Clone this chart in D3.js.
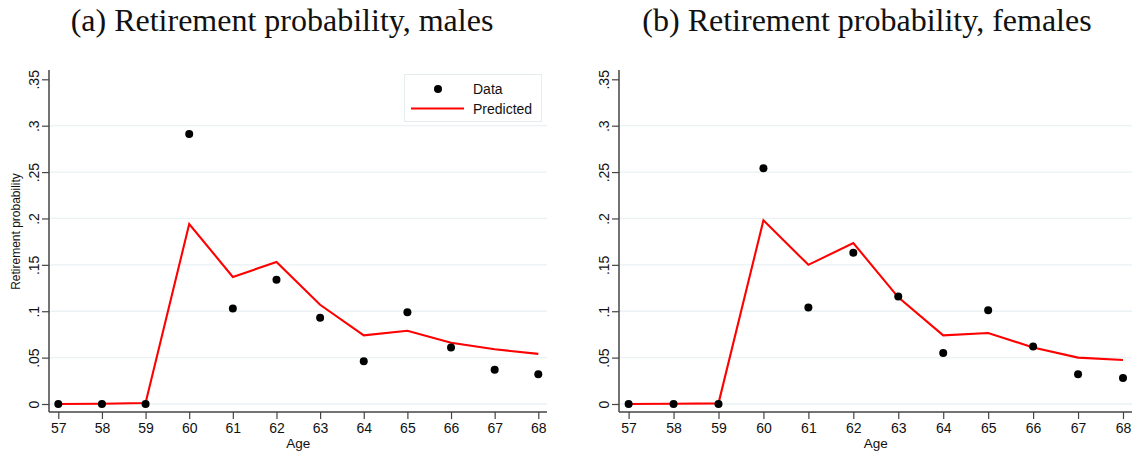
<!DOCTYPE html>
<html>
<head>
<meta charset="utf-8">
<script src="https://cdn.jsdelivr.net/npm/d3@7"></script>
<style>
  html, body { margin: 0; padding: 0; background: #fff; }
  svg { display: block; }
</style>
</head>
<body>
<svg id="chart" width="1136" height="455"></svg>
<script>
// ---- data ----
const ages = [57, 58, 59, 60, 61, 62, 63, 64, 65, 66, 67, 68];
const malesData = [0, 0, 0, 0.291, 0.103, 0.134, 0.093, 0.046, 0.099, 0.061, 0.037, 0.032];
const malesPredicted = [0, 0.0003, 0.001, 0.194, 0.137, 0.153, 0.107, 0.074, 0.079, 0.066, 0.059, 0.054];
const femalesData = [0, 0, 0, 0.254, 0.104, 0.163, 0.116, 0.055, 0.101, 0.062, 0.032, 0.028];
const femalesPredicted = [0, 0.0003, 0.0007, 0.198, 0.150, 0.1735, 0.115, 0.074, 0.0765, 0.061, 0.050, 0.0475];
const yTickValues = [0, 0.05, 0.1, 0.15, 0.2, 0.25, 0.3, 0.35];
const yTickLabels = ["0", ".05", ".1", ".15", ".2", ".25", ".3", ".35"];
const gridValues = [0, 0.05, 0.1, 0.15, 0.2, 0.25, 0.3];
const titles = ["(a) Retirement probability, males", "(b) Retirement probability, females"];
const legendLabels = ["Data", "Predicted"];
const yTitle = "Retirement probability";
const xTitle = "Age";

// ---- layout ----
const svg = d3.select("#chart");
const panels = [
  { title: titles[0], data: malesData, pred: malesPredicted, axisX: 49, right: 547, x0: 58.3, x1: 538.3, titleX: 282, showYTitle: true, legend: true },
  { title: titles[1], data: femalesData, pred: femalesPredicted, axisX: 619, right: 1132, x0: 628.6, x1: 1123, titleX: 867, showYTitle: false, legend: false }
];
const plotTop = 70, plotBottom = 412;
const y = d3.scaleLinear().domain([0, 0.35]).range([404, 79.3]);
const gridColor = "#eaf2f3";
const axisColor = "#444";
const sansFont = "Liberation Sans, Arial, sans-serif";

panels.forEach(p => {
  const x = d3.scaleLinear().domain([57, 68]).range([p.x0, p.x1]);
  const g = svg.append("g");

  // gridlines
  g.selectAll("line.grid").data(gridValues).enter().append("line")
    .attr("x1", p.axisX).attr("x2", p.right)
    .attr("y1", d => y(d)).attr("y2", d => y(d))
    .attr("stroke", gridColor).attr("stroke-width", 1.3);

  // y axis
  const yAxis = d3.axisLeft(y).tickValues(yTickValues)
    .tickFormat((d, i) => yTickLabels[i]).tickSize(7).tickSizeOuter(0);
  const ya = g.append("g").attr("transform", `translate(${p.axisX},0)`).call(yAxis);
  ya.select(".domain").remove();
  ya.selectAll(".tick line").attr("stroke", axisColor).attr("stroke-width", 1.2);
  ya.selectAll(".tick text")
    .attr("transform", "rotate(-90)")
    .attr("x", 0).attr("y", -10).attr("dy", 0)
    .attr("text-anchor", "middle")
    .attr("fill", "#111")
    .style("font-family", sansFont).style("font-size", "14px");
  g.append("line").attr("x1", p.axisX).attr("x2", p.axisX)
    .attr("y1", plotTop).attr("y2", plotBottom)
    .attr("stroke", axisColor).attr("stroke-width", 1.5);

  // x axis
  const xAxis = d3.axisBottom(x).tickValues(ages).tickFormat(d3.format("d"))
    .tickSize(7).tickSizeOuter(0);
  const xa = g.append("g").attr("transform", `translate(0,${plotBottom})`).call(xAxis);
  xa.select(".domain").remove();
  xa.selectAll(".tick line").attr("stroke", axisColor).attr("stroke-width", 1.2);
  xa.selectAll(".tick text")
    .attr("y", 20.5).attr("dy", 0)
    .attr("fill", "#111")
    .style("font-family", sansFont).style("font-size", "14px");
  g.append("line").attr("x1", p.axisX).attr("x2", p.right)
    .attr("y1", plotBottom).attr("y2", plotBottom)
    .attr("stroke", axisColor).attr("stroke-width", 1.5);

  // x title
  g.append("text").text(xTitle)
    .attr("x", (p.x0 + p.x1) / 2).attr("y", 448)
    .attr("text-anchor", "middle").attr("fill", "#111")
    .style("font-family", sansFont).style("font-size", "13.5px");

  // y title
  if (p.showYTitle) {
    g.append("text").text(yTitle)
      .attr("transform", `translate(20,231.5) rotate(-90)`)
      .attr("text-anchor", "middle").attr("fill", "#111")
      .style("font-family", sansFont).style("font-size", "12px");
  }

  // predicted line
  const line = d3.line().x((d, i) => x(ages[i])).y(d => y(d));
  g.append("path").datum(p.pred)
    .attr("d", line).attr("fill", "none")
    .attr("stroke", "#ff0000").attr("stroke-width", 2.1)
    .attr("stroke-linejoin", "miter");

  // data dots
  g.selectAll("circle.dot").data(p.data).enter().append("circle")
    .attr("cx", (d, i) => x(ages[i])).attr("cy", d => y(d))
    .attr("r", 4).attr("fill", "#000");

  // panel title
  g.append("text").text(p.title)
    .attr("x", p.titleX).attr("y", 31)
    .attr("text-anchor", "middle").attr("fill", "#111")
    .style("font-family", "Liberation Serif, Times New Roman, serif")
    .style("font-size", "32px");

  // legend
  if (p.legend) {
    const lg = g.append("g");
    lg.append("rect").attr("x", 404.5).attr("y", 74.5).attr("width", 137).attr("height", 47)
      .attr("fill", "#fff").attr("stroke", "#e4ecee").attr("stroke-width", 1);
    lg.append("circle").attr("cx", 438).attr("cy", 89).attr("r", 4).attr("fill", "#000");
    lg.append("line").attr("x1", 411).attr("x2", 464).attr("y1", 108.5).attr("y2", 108.5)
      .attr("stroke", "#ff0000").attr("stroke-width", 2.1);
    lg.selectAll("text").data(legendLabels).enter().append("text")
      .text(d => d).attr("x", 473).attr("y", (d, i) => 93.5 + i * 20)
      .attr("fill", "#111")
      .style("font-family", sansFont).style("font-size", "14px");
  }
});
</script>
</body>
</html>
